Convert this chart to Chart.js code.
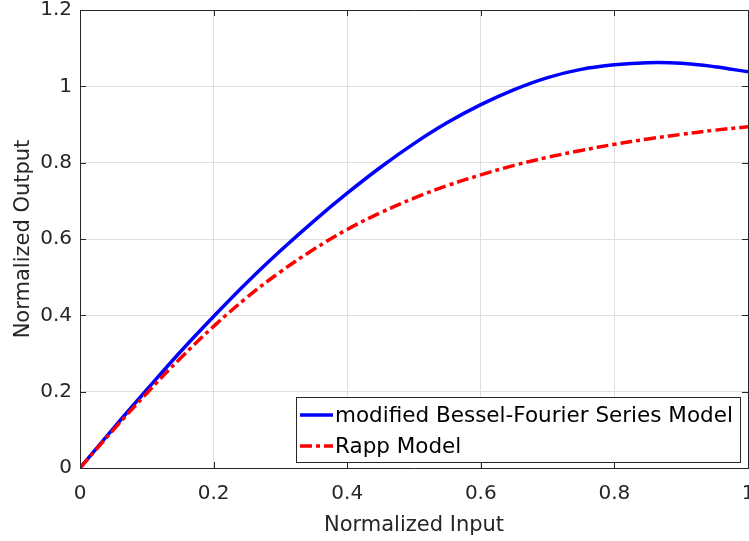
<!DOCTYPE html>
<html>
<head>
<meta charset="utf-8">
<title>AM/AM characteristic</title>
<script src="https://cdn.jsdelivr.net/npm/chart.js@4.4.1/dist/chart.umd.min.js"></script>
<style>
    html, body { margin: 0; padding: 0; background: #fff; }
    canvas { display: block; }
</style>
</head>
<body>
<canvas id="amamChart" width="749" height="541"></canvas>
<script>
// Normalized AM/AM curves: Bessel-Fourier fit vs. Rapp model
const inputLevels = [0, 0.05, 0.1, 0.15, 0.2, 0.25, 0.3, 0.35, 0.4, 0.45, 0.5,
    0.55, 0.6, 0.65, 0.7, 0.75, 0.8, 0.85, 0.9, 0.95, 1];
const besselFourierOutput = [0, 0.104, 0.205, 0.304, 0.397, 0.486, 0.569, 0.647, 0.720, 0.788, 0.850,
    0.905, 0.952, 0.9915, 1.023, 1.0445, 1.0565, 1.062, 1.0605, 1.0515, 1.038];
const rappOutput = [0, 0.100, 0.196, 0.287, 0.371, 0.447, 0.514, 0.573, 0.625, 0.669, 0.707,
    0.740, 0.768, 0.793, 0.814, 0.832, 0.848, 0.862, 0.874, 0.885, 0.894];
const seriesLabels = ['modified Bessel-Fourier Series Model', 'Rapp Model'];
const xTickLabels = ['0', '0.2', '0.4', '0.6', '0.8', '1'];
const yTickLabels = ['0', '0.2', '0.4', '0.6', '0.8', '1', '1.2'];

const AXIS_COLOR = '#262626';
const GRID_COLOR = '#dfdfdf';
const FONT = 'DejaVu Sans';
const TICK_LEN = 6;

const toPoints = values => inputLevels.map((x, i) => ({ x, y: values[i] }));
const crisp = v => Math.round(v) + 0.5;

// box on the top/right plus inward tick marks on all four sides
const framePlugin = {
    id: 'frame',
    afterDatasetsDraw(chart) {
        const { ctx, chartArea: { left, right, top, bottom }, scales: { x, y } } = chart;
        ctx.save();
        ctx.strokeStyle = AXIS_COLOR;
        ctx.lineWidth = 1;
        ctx.beginPath();
        ctx.moveTo(crisp(left), crisp(top));
        ctx.lineTo(crisp(right), crisp(top));
        ctx.lineTo(crisp(right), crisp(bottom));
        x.ticks.forEach(t => {
            const px = crisp(x.getPixelForValue(t.value));
            ctx.moveTo(px, bottom);
            ctx.lineTo(px, bottom - TICK_LEN);
            ctx.moveTo(px, top);
            ctx.lineTo(px, top + TICK_LEN);
        });
        y.ticks.forEach(t => {
            const py = crisp(y.getPixelForValue(t.value));
            ctx.moveTo(left, py);
            ctx.lineTo(left + TICK_LEN, py);
            ctx.moveTo(right, py);
            ctx.lineTo(right - TICK_LEN, py);
        });
        ctx.stroke();
        ctx.restore();
    }
};

// boxed legend in the lower right corner of the plot
const legendPlugin = {
    id: 'boxLegend',
    afterDraw(chart) {
        const { ctx, chartArea: { right, bottom } } = chart;
        const w = 444, h = 65;
        const bx = right - 8 - w, by = bottom - 6 - h;
        const rows = [by + 18, by + 49];

        ctx.save();
        ctx.fillStyle = '#fff';
        ctx.fillRect(bx, by, w, h);
        ctx.strokeStyle = AXIS_COLOR;
        ctx.lineWidth = 1;
        ctx.strokeRect(crisp(bx), crisp(by), w, h);

        chart.data.datasets.forEach((ds, i) => {
            const ry = rows[i];
            ctx.strokeStyle = ds.borderColor;
            ctx.lineWidth = ds.borderWidth;
            ctx.setLineDash(ds.borderDash || []);
            ctx.beginPath();
            ctx.moveTo(bx + 4, ry);
            ctx.lineTo(bx + 37, ry);
            ctx.stroke();

            ctx.setLineDash([]);
            ctx.fillStyle = '#000';
            ctx.font = '21.5px "' + FONT + '"';
            ctx.textBaseline = 'middle';
            ctx.textAlign = 'left';
            ctx.fillText(ds.label, bx + 39, ry + 1);
        });
        ctx.restore();
    }
};

const ctx = document.getElementById('amamChart').getContext('2d');

new Chart(ctx, {
    type: 'line',
    data: {
        datasets: [{
            label: seriesLabels[0],
            data: toPoints(besselFourierOutput),
            borderColor: '#0000ff',
            borderWidth: 3.5,
            tension: 0.4,
            fill: false,
            order: 2
        }, {
            label: seriesLabels[1],
            data: toPoints(rappOutput),
            borderColor: '#ff0000',
            borderWidth: 3.5,
            borderDash: [12, 4, 4, 4],
            tension: 0.4,
            fill: false,
            order: 1
        }]
    },
    options: {
        responsive: false,
        animation: false,
        layout: {
            autoPadding: false,
            padding: { top: 10, right: 1, left: 0, bottom: 0 }
        },
        elements: {
            point: { radius: 0 }
        },
        plugins: {
            legend: { display: false },
            tooltip: { enabled: false }
        },
        scales: {
            x: {
                type: 'linear',
                min: 0,
                max: 1,
                // fixed height; let the end labels run past the plot edge
                afterFit: scale => {
                    scale.height = 73;
                    scale.paddingLeft = 0;
                    scale.paddingRight = 0;
                },
                grid: { color: GRID_COLOR, drawTicks: false },
                border: { color: AXIS_COLOR, width: 1 },
                ticks: {
                    stepSize: 0.2,
                    padding: 14,
                    autoSkip: false,
                    maxRotation: 0,
                    color: AXIS_COLOR,
                    font: { family: FONT, size: 20 },
                    callback: (value, index) => xTickLabels[index]
                },
                title: {
                    display: true,
                    text: 'Normalized Input',
                    color: AXIS_COLOR,
                    font: { family: FONT, size: 21 },
                    padding: { top: 0, bottom: 3 }
                }
            },
            y: {
                type: 'linear',
                min: 0,
                max: 1.2,
                afterFit: scale => {
                    scale.width = 80;
                    scale.paddingTop = 0;
                    scale.paddingBottom = 0;
                },
                grid: { color: GRID_COLOR, drawTicks: false },
                border: { color: AXIS_COLOR, width: 1 },
                ticks: {
                    stepSize: 0.2,
                    padding: 8,
                    color: AXIS_COLOR,
                    font: { family: FONT, size: 20 },
                    callback: (value, index) => yTickLabels[index]
                },
                title: {
                    display: true,
                    text: 'Normalized Output',
                    color: AXIS_COLOR,
                    font: { family: FONT, size: 21 },
                    padding: { top: 11, bottom: 0 }
                }
            }
        }
    },
    plugins: [framePlugin, legendPlugin]
});
</script>
</body>
</html>
